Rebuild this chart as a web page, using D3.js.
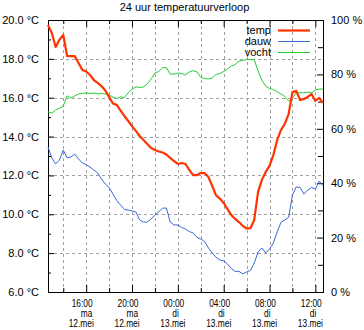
<!DOCTYPE html>
<html>
<head>
<meta charset="utf-8">
<script src="https://cdn.jsdelivr.net/npm/d3@7"></script>
<style>
  body { margin: 0; background: #fff; }
  svg { display: block; font-family: "Liberation Sans", Arial, sans-serif; }
</style>
</head>
<body>
<svg id="chart" width="364" height="330"></svg>
<script>
// metingen om de 20 minuten, 12 mei 12:40 t/m 13 mei 12:40
const temp = [19.74, 19.33, 18.61, 18.99, 19.23, 18.15, 18.14, 18.14, 17.79, 17.43,
  17.35, 17.17, 16.91, 16.76, 16.60, 16.37, 16.04, 15.70, 15.63, 15.34,
  15.06, 14.80, 14.54, 14.29, 14.03, 13.82, 13.62, 13.41, 13.31, 13.23,
  13.18, 13.08, 12.90, 12.74, 12.59, 12.64, 12.59, 12.28, 12.02, 12.02,
  12.12, 12.12, 11.92, 11.46, 10.97, 10.81, 10.58, 10.27, 9.96, 9.76,
  9.60, 9.40, 9.27, 9.28, 9.71, 11.15, 11.77, 12.18, 12.49, 13.05,
  13.82, 14.34, 14.65, 15.16, 16.29, 16.35, 15.88, 15.93, 16.04, 16.19,
  15.83, 15.99, 15.73];
const dauw = [13.46, 12.90, 12.59, 12.79, 13.31, 12.90, 12.95, 13.10, 12.85, 12.64,
  12.56, 12.43, 12.28, 12.13, 11.82, 11.56, 11.38, 11.04, 10.71, 10.48,
  10.25, 10.22, 10.17, 10.12, 9.71, 9.60, 9.60, 9.76, 9.96, 10.12,
  10.32, 10.32, 9.60, 9.45, 9.45, 9.32, 9.24, 9.11, 9.04, 8.81,
  8.73, 8.60, 8.27, 8.01, 7.78, 7.65, 7.60, 7.44, 7.21, 7.06,
  7.06, 6.93, 7.03, 7.11, 7.49, 8.06, 8.27, 8.01, 8.21, 8.52,
  9.09, 9.59, 9.71, 9.84, 10.99, 11.41, 11.38, 11.04, 11.25, 11.38,
  11.30, 11.71, 11.47];
const vocht = [66.2, 65.8, 66.9, 67.6, 68.4, 72.1, 71.3, 72.1, 72.8, 73.0,
  73.2, 73.0, 73.2, 72.8, 73.0, 72.8, 72.4, 71.7, 71.1, 71.7,
  71.5, 73.2, 74.6, 75.4, 75.2, 75.4, 76.5, 78.3, 80.5, 81.1,
  82.4, 82.5, 80.1, 80.1, 80.5, 80.3, 79.8, 80.9, 81.4, 80.9,
  78.9, 78.5, 78.3, 78.7, 80.0, 80.3, 81.1, 82.0, 83.1, 83.6,
  84.9, 85.1, 85.5, 85.5, 85.4, 81.3, 77.9, 75.7, 74.8, 74.4,
  73.7, 72.8, 71.9, 70.2, 71.3, 73.2, 73.2, 73.3, 73.5, 73.2,
  74.3, 74.6, 74.6];

const startTime = new Date(2014, 4, 12, 12, 40);
const stepMinutes = 20;
const tempTicks = [6, 8, 10, 12, 14, 16, 18, 20];
const humTicks = [0, 20, 40, 60, 80, 100];
const dagen = ["zo", "ma", "di", "wo", "do", "vr", "za"];
const maanden = ["jan", "feb", "mrt", "apr", "mei", "jun", "jul", "aug", "sep", "okt", "nov", "dec"];
const series = [
  { name: "temp", values: temp, color: "#ff3300", width: 2.2, axis: "T" },
  { name: "dauw", values: dauw, color: "#3b68d8", width: 1, axis: "T" },
  { name: "vocht", values: vocht, color: "#22cc33", width: 1, axis: "H" }
];

const pLeft = 48, pRight = 323, pTop = 20, pBottom = 292;
const svg = d3.select("#chart");

const times = temp.map((d, i) => d3.timeMinute.offset(startTime, i * stepMinutes));
const x = d3.scaleTime().domain(d3.extent(times)).range([pLeft, pRight]);
const yT = d3.scaleLinear().domain([6, 20]).range([pBottom, pTop]);
const yH = d3.scaleLinear().domain([0, 100]).range([pBottom, pTop]);

const hourTicks = d3.timeHour.every(2).range(x.domain()[0], x.domain()[1]);
const majorHours = hourTicks.filter(d => d.getHours() % 4 === 0);
const minorHours = hourTicks.filter(d => d.getHours() % 4 !== 0);

// grid
const grid = svg.append("g").attr("stroke", "#a0a0a0").attr("stroke-dasharray", "3,3");
grid.selectAll("line.v").data(hourTicks).join("line")
  .attr("x1", d => Math.round(x(d)) + 0.5).attr("x2", d => Math.round(x(d)) + 0.5)
  .attr("y1", pTop).attr("y2", pBottom);
grid.selectAll("line.h").data(tempTicks.slice(1, -1)).join("line")
  .attr("y1", d => Math.round(yT(d)) + 0.5).attr("y2", d => Math.round(yT(d)) + 0.5)
  .attr("x1", pLeft).attr("x2", pRight);

// titel
svg.append("text")
  .attr("x", 184.5).attr("y", 11)
  .attr("text-anchor", "middle")
  .style("font-size", "11px")
  .text("24 uur temperatuurverloop");

// assen
const styleAxis = g => {
  g.selectAll("path, line").attr("stroke", "#000");
  g.selectAll("text").style("font-size", "11px").attr("fill", "#000");
};
const noLabels = g => g.selectAll(".tick text").remove();

svg.append("g").attr("transform", `translate(${pLeft},0)`)
  .call(d3.axisLeft(yT).tickValues(tempTicks).tickSize(-6).tickSizeOuter(0).tickPadding(9)
    .tickFormat(d => d.toFixed(1) + " °C"))
  .call(styleAxis);
svg.append("g").attr("transform", `translate(${pLeft},0)`)
  .call(d3.axisLeft(yT).tickValues(d3.range(7, 20, 2)).tickSize(-3).tickSizeOuter(0))
  .call(noLabels).call(styleAxis);

svg.append("g").attr("transform", `translate(${pRight},0)`)
  .call(d3.axisRight(yH).tickValues(humTicks).tickSize(-6).tickSizeOuter(0).tickPadding(8)
    .tickFormat(d => d + " %"))
  .call(styleAxis);
svg.append("g").attr("transform", `translate(${pRight},0)`)
  .call(d3.axisRight(yH).tickValues(d3.range(10, 100, 20)).tickSize(-5).tickSizeOuter(0))
  .call(noLabels).call(styleAxis);

svg.append("g").attr("transform", `translate(0,${pTop})`)
  .call(d3.axisTop(x).tickValues(majorHours).tickSize(-7).tickSizeOuter(0))
  .call(noLabels).call(styleAxis);
svg.append("g").attr("transform", `translate(0,${pTop})`)
  .call(d3.axisTop(x).tickValues(minorHours).tickSize(-4).tickSizeOuter(0))
  .call(noLabels).call(styleAxis);

svg.append("g").attr("transform", `translate(0,${pBottom})`)
  .call(d3.axisBottom(x).tickValues(minorHours).tickSize(-4).tickSizeOuter(0))
  .call(noLabels).call(styleAxis);
const xAxis = svg.append("g").attr("transform", `translate(0,${pBottom})`)
  .call(d3.axisBottom(x).tickValues(majorHours).tickSize(-7).tickSizeOuter(0))
  .call(noLabels).call(styleAxis);

// labels onder de as: tijd, dag, datum in één tekst (smal lettertype)
const fmtTime = d3.timeFormat("%H:%M");
const squeeze = 0.76;
xAxis.selectAll(".tick").each(function (d) {
  const rows = [fmtTime(d), dagen[d.getDay()], d.getDate() + "." + maanden[d.getMonth()]];
  const label = d3.select(this).append("text")
    .attr("transform", `scale(${squeeze},1)`)
    .attr("text-anchor", "start")
    .attr("fill", "#000")
    .style("font-size", "11px");
  rows.forEach((s, i) => {
    label.append("tspan")
      .attr("x", -3 * s.length / squeeze)
      .attr("y", 15 + i * 10)
      .text(s);
  });
});

// lijnen
const plot = svg.append("g");
[series[1], series[2], series[0]].forEach(s => {
  const y = s.axis === "T" ? yT : yH;
  plot.append("path")
    .datum(s.values)
    .attr("fill", "none")
    .attr("stroke", s.color)
    .attr("stroke-width", s.width)
    .attr("stroke-linejoin", "round")
    .attr("d", d3.line().x((d, i) => x(times[i])).y(d => y(d)));
});

// legenda
const legend = svg.append("g");
series.forEach((s, i) => {
  const ly = 30 + i * 11;
  legend.append("text")
    .attr("x", 271).attr("y", ly).attr("dy", "0.35em")
    .attr("text-anchor", "end")
    .style("font-size", "11px")
    .text(s.name);
  legend.append("line")
    .attr("x1", 278).attr("x2", 310)
    .attr("y1", ly + 0.5).attr("y2", ly + 0.5)
    .attr("stroke", s.color)
    .attr("stroke-width", s.width);
});
</script>
</body>
</html>
